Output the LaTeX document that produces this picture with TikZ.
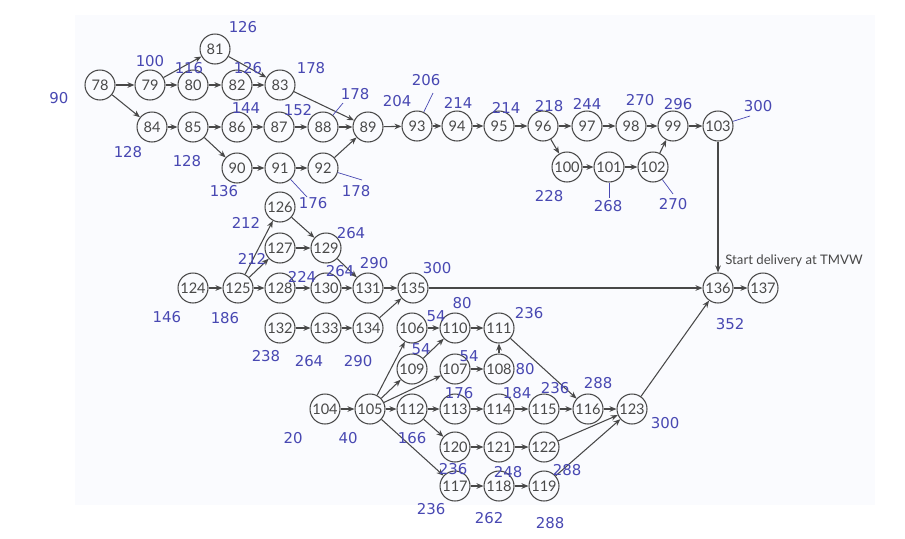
\documentclass[tikz,border=0pt]{standalone}
\usepackage{fontspec}
\setmainfont{Lato}
\newfontfamily\lblfont{DejaVu Sans}
\usepackage{tikz}
\usetikzlibrary{arrows.meta}
\usetikzlibrary{positioning}
\definecolor{lblblue}{RGB}{72,72,178}
\definecolor{inkgray}{RGB}{72,72,72}
\definecolor{scanbg}{RGB}{250,251,254}
\tikzset{
    event/.style={circle, draw=inkgray, line width=0.6pt, minimum size=0.6cm,
        inner sep=0pt, text=inkgray, font=\fontsize{8.3}{9}\selectfont},
    activity/.style={draw=inkgray, line width=0.6pt,
        -{Stealth[length=4pt,width=3.2pt]}},
    leader/.style={draw=lblblue, line width=0.4pt},
    time/.style={text=lblblue, inner sep=0pt, font=\lblfont\fontsize{8.5}{10}\selectfont},
    note/.style={text=inkgray, inner sep=0pt, font=\fontsize{7.5}{9}\selectfont},
}
\begin{document}
\begin{tikzpicture}[x=0.02cm,y=-0.02cm]
	\useasboundingbox (0,0) rectangle (905,538);
	\fill[scanbg] (75,15) rectangle (875,505);
	% upper network
	\node[event] (n78) at (100,85) {78};
	\node[event] (n79) at (150,85) {79};
	\node[event] (n80) at (193,85) {80};
	\node[event] (n81) at (215,49) {81};
	\node[event] (n82) at (237,85) {82};
	\node[event] (n83) at (280,85) {83};
	\node[event] (n84) at (152,127) {84};
	\node[event] (n85) at (193,127) {85};
	\node[event] (n86) at (237,127) {86};
	\node[event] (n87) at (279,127) {87};
	\node[event] (n88) at (323,127) {88};
	\node[event] (n89) at (368,127) {89};
	\node[event] (n90) at (237,168) {90};
	\node[event] (n91) at (280,168) {91};
	\node[event] (n92) at (323,168) {92};
	\node[event] (n93) at (417,126) {93};
	\node[event] (n94) at (457,126) {94};
	\node[event] (n95) at (499,126) {95};
	\node[event] (n96) at (543,126) {96};
	\node[event] (n97) at (587,126) {97};
	\node[event] (n98) at (631,126) {98};
	\node[event] (n99) at (673,126) {99};
	\node[event] (n103) at (718,126) {103};
	\node[event] (n100) at (567,167) {100};
	\node[event] (n101) at (609,167) {101};
	\node[event] (n102) at (653,167) {102};
	% middle network
	\node[event] (n126) at (280,207) {126};
	\node[event] (n127) at (280,248) {127};
	\node[event] (n129) at (326,248) {129};
	\node[event] (n124) at (193,288) {124};
	\node[event] (n125) at (238,288) {125};
	\node[event] (n128) at (280,288) {128};
	\node[event] (n130) at (326,288) {130};
	\node[event] (n131) at (368,288) {131};
	\node[event] (n135) at (413,288) {135};
	\node[event] (n132) at (280,328) {132};
	\node[event] (n133) at (326,328) {133};
	\node[event] (n134) at (368,328) {134};
	\node[event] (n136) at (718,288) {136};
	\node[event] (n137) at (763,288) {137};
	% lower network
	\node[event] (n106) at (412,328) {106};
	\node[event] (n110) at (455,328) {110};
	\node[event] (n111) at (499,328) {111};
	\node[event] (n109) at (412,369) {109};
	\node[event] (n107) at (455,369) {107};
	\node[event] (n108) at (499,369) {108};
	\node[event] (n104) at (325,409) {104};
	\node[event] (n105) at (370,409) {105};
	\node[event] (n112) at (412,409) {112};
	\node[event] (n113) at (455,409) {113};
	\node[event] (n114) at (499,409) {114};
	\node[event] (n115) at (544,409) {115};
	\node[event] (n116) at (588,409) {116};
	\node[event] (n123) at (632,409) {123};
	\node[event] (n120) at (455,447) {120};
	\node[event] (n121) at (499,447) {121};
	\node[event] (n122) at (544,447) {122};
	\node[event] (n117) at (455,486) {117};
	\node[event] (n118) at (499,486) {118};
	\node[event] (n119) at (544,486) {119};
	\node[note, anchor=west] (start) at (725,261) {Start delivery at TMVW};
	% activities
	\draw[activity] (n78) -- (n79);
	\draw[activity] (n79) -- (n80);
	\draw[activity] (n79) -- (n81);
	\draw[activity] (n80) -- (n82);
	\draw[activity] (n81) -- (n83);
	\draw[activity] (n82) -- (n83);
	\draw[activity] (n78) -- (n84);
	\draw[activity] (n83) -- (n89);
	\draw[activity] (n84) -- (n85);
	\draw[activity] (n85) -- (n86);
	\draw[activity] (n86) -- (n87);
	\draw[activity] (n87) -- (n88);
	\draw[activity] (n88) -- (n89);
	\draw[activity] (n85) -- (n90);
	\draw[activity] (n90) -- (n91);
	\draw[activity] (n91) -- (n92);
	\draw[activity] (n92) -- (n89);
	\draw[activity] (n89) -- (n93);
	\draw[activity] (n93) -- (n94);
	\draw[activity] (n94) -- (n95);
	\draw[activity] (n95) -- (n96);
	\draw[activity] (n96) -- (n97);
	\draw[activity] (n97) -- (n98);
	\draw[activity] (n98) -- (n99);
	\draw[activity] (n99) -- (n103);
	\draw[activity] (n96) -- (n100);
	\draw[activity] (n100) -- (n101);
	\draw[activity] (n101) -- (n102);
	\draw[activity] (n102) -- (n99);
	\draw[activity] (n103) -- (n136);
	\draw[activity] (n124) -- (n125);
	\draw[activity] (n125) -- (n126);
	\draw[activity] (n125) -- (n127);
	\draw[activity] (n125) -- (n128);
	\draw[activity] (n126) -- (n129);
	\draw[activity] (n127) -- (n129);
	\draw[activity] (n128) -- (n130);
	\draw[activity] (n129) -- (n131);
	\draw[activity] (n130) -- (n131);
	\draw[activity] (n131) -- (n135);
	\draw[activity] (n132) -- (n133);
	\draw[activity] (n133) -- (n134);
	\draw[activity] (n134) -- (n135);
	\draw[activity] (n135) -- (n136);
	\draw[activity] (n136) -- (n137);
	\draw[activity] (n104) -- (n105);
	\draw[activity] (n105) -- (n106);
	\draw[activity] (n105) -- (n109);
	\draw[activity] (n105) -- (n107);
	\draw[activity] (n105) -- (n112);
	\draw[activity] (n105) -- (n117);
	\draw[activity] (n106) -- (n110);
	\draw[activity] (n109) -- (n110);
	\draw[activity] (n110) -- (n111);
	\draw[activity] (n107) -- (n108);
	\draw[activity] (n108) -- (n111);
	\draw[activity] (n111) -- (n116);
	\draw[activity] (n112) -- (n113);
	\draw[activity] (n113) -- (n114);
	\draw[activity] (n114) -- (n115);
	\draw[activity] (n115) -- (n116);
	\draw[activity] (n116) -- (n123);
	\draw[activity] (n112) -- (n120);
	\draw[activity] (n120) -- (n121);
	\draw[activity] (n121) -- (n122);
	\draw[activity] (n122) -- (n123);
	\draw[activity] (n117) -- (n118);
	\draw[activity] (n118) -- (n119);
	\draw[activity] (n119) -- (n123);
	\draw[activity] (n123) -- (n136);
	% times
	\node[time] (t78) at (59,98) {90};
	\node[time] (t79) at (150,61) {100};
	\node[time] (t80) at (189,68) {116};
	\node[time] (t81) at (243,27) {126};
	\node[time] (t82) at (248,68) {126};
	\node[time] (t83) at (311,68) {178};
	\node[time] (t84) at (128,152) {128};
	\node[time] (t85) at (187,161) {128};
	\node[time] (t86) at (246,108) {144};
	\node[time] (t87) at (298,110) {152};
	\node[time] (t88) at (355,94) {178};
	\node[time] (t90) at (224,191) {136};
	\node[time] (t91) at (313,203) {176};
	\node[time] (t92) at (356,191) {178};
	\node[time] (t89) at (397,101) {204};
	\node[time] (t93) at (426,80) {206};
	\node[time] (t94) at (458,103) {214};
	\node[time] (t95) at (506,108) {214};
	\node[time] (t96) at (549,106) {218};
	\node[time] (t97) at (587,104) {244};
	\node[time] (t98) at (640,100) {270};
	\node[time] (t99) at (678,104) {296};
	\node[time] (t103) at (758,106) {300};
	\node[time] (t100) at (549,196) {228};
	\node[time] (t101) at (608,206) {268};
	\node[time] (t102) at (673,204) {270};
	\node[time] (t126) at (246,223) {212};
	\node[time] (t127) at (252,259) {212};
	\node[time] (t129) at (351,233) {264};
	\node[time] (t128) at (302,277) {224};
	\node[time] (t130) at (340,271) {264};
	\node[time] (t131) at (374,263) {290};
	\node[time] (t135) at (437,268) {300};
	\node[time] (t124) at (167,317) {146};
	\node[time] (t125) at (225,318) {186};
	\node[time] (t132) at (266,356) {238};
	\node[time] (t133) at (309,361) {264};
	\node[time] (t134) at (358,361) {290};
	\node[time] (t136) at (730,324) {352};
	\node[time] (t110) at (462,303) {80};
	\node[time] (t106) at (436,316) {54};
	\node[time] (t111) at (529,313) {236};
	\node[time] (t109) at (421,349) {54};
	\node[time] (t107) at (469,356) {54};
	\node[time] (t108) at (525,369) {80};
	\node[time] (t113) at (459,393) {176};
	\node[time] (t114) at (517,393) {184};
	\node[time] (t115) at (555,388) {236};
	\node[time] (t116) at (598,383) {288};
	\node[time] (t123) at (665,423) {300};
	\node[time] (t104) at (293,438) {20};
	\node[time] (t105) at (348,438) {40};
	\node[time] (t112) at (412,438) {166};
	\node[time] (t120) at (453,469) {236};
	\node[time] (t121) at (508,472) {248};
	\node[time] (t122) at (567,470) {288};
	\node[time] (t117) at (431,509) {236};
	\node[time] (t118) at (489,518) {262};
	\node[time] (t119) at (550,523) {288};
	% leaders
	\coordinate (l88) at (343,103);
	\coordinate (l91) at (307,197);
	\coordinate (l92) at (362,180);
	\coordinate (l93) at (433,93);
	\coordinate (l103) at (750,116);
	\coordinate (l101) at (609,198);
	\coordinate (l102) at (673,194);
	\draw[leader] (n88) -- (l88);
	\draw[leader] (n91) -- (l91);
	\draw[leader] (n92) -- (l92);
	\draw[leader] (n93) -- (l93);
	\draw[leader] (n103) -- (l103);
	\draw[leader] (n101) -- (l101);
	\draw[leader] (n102) -- (l102);
\end{tikzpicture}
\end{document}
